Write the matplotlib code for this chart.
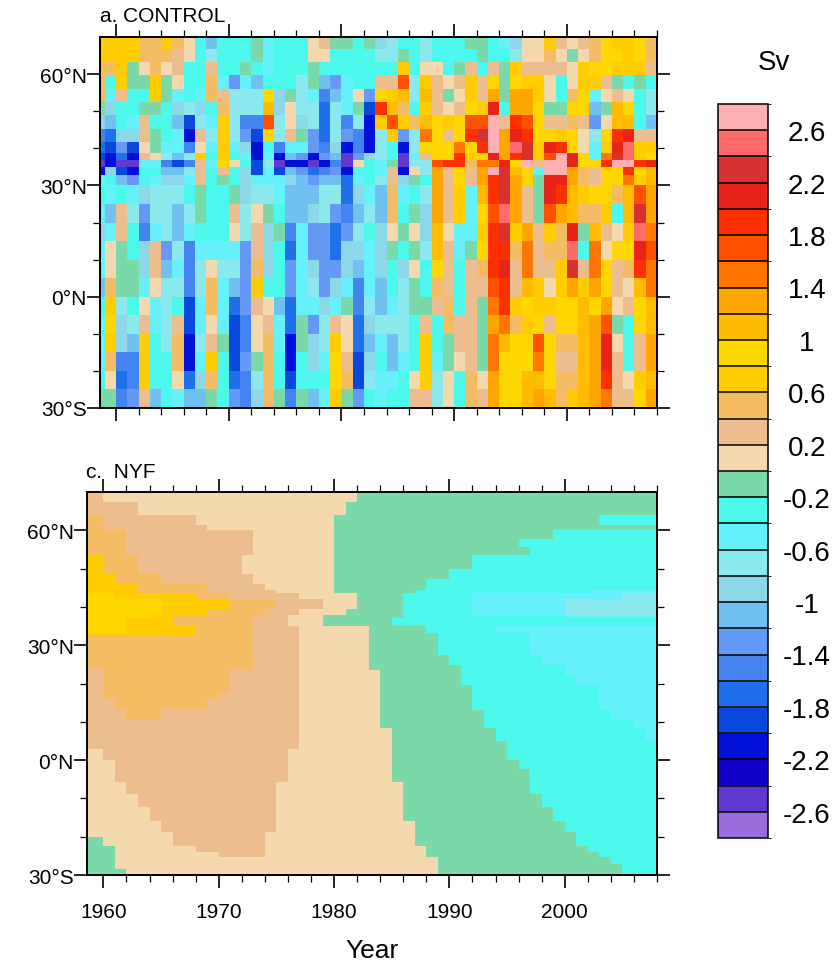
#!/usr/bin/env python3
"""Overturning anomaly (Sv) by latitude and year: CONTROL and NYF panels."""

import numpy as np
import matplotlib
matplotlib.use('Agg')
import matplotlib.pyplot as plt
from matplotlib.colors import ListedColormap, BoundaryNorm
from matplotlib.ticker import MultipleLocator, FixedLocator

plt.rcParams['font.family'] = ['Liberation Sans', 'DejaVu Sans']

W, H = 838, 962

shade_colors = [
    '#9a6cdc', '#6038d0', '#1000c8', '#0010d8', '#0848dc', '#2070ec', '#4484f0',
    '#6699f5', '#70c0f0', '#8cd8e8', '#8be8ec', '#66f0fa', '#4cf8ec', '#7bd8a8',
    '#f5d9ae', '#ecbd8e', '#f4bc62', '#ffcc00', '#ffd700', '#ffbb00', '#ffa500',
    '#ff7700', '#ff5000', '#ff3000', '#e82418', '#d93030', '#ff6b6b', '#ffb0b5',
]
# all values in tenths of a Sverdrup
shade_bounds = list(range(-28, 30, 2))
bar_ticks = [26, 22, 18, 14, 10, 6, 2, -2, -6, -10, -14, -18, -22, -26]
bar_labels = ['2.6', '2.2', '1.8', '1.4', '1', '0.6', '0.2',
              '-0.2', '-0.6', '-1', '-1.4', '-1.8', '-2.2', '-2.6']

year_edges = [1958.58] + list(range(1959, 2009))

control_lat_edges = [70, 66.9, 63.3, 59.7, 56.1, 52.5, 48.9, 45.3, 41.7, 38.6, 36.8, 35,
                     32.7, 30, 25, 20, 15, 10, 5, 0, -5, -10, -15, -20, -25, -30]

# one list per year, north to south
control_by_year = [
    [7, 7, 5, 5, 5, -1, -9, -15, -17, -19, -25, -21, -5, -3, -5, -9, -5, -5, -11, -3, -5, -5, -5, -3, -1],
    [7, 7, 5, -3, -5, -9, -11, -17, -19, -21, -21, -9, -3, -5, -11, -5, 1, 1, 5, 7, 9, 7, 5, 1, -1],
    [7, 7, 7, 7, 3, -3, -3, -9, -13, -17, -25, -19, -11, -3, 3, 3, -1, -1, -1, -7, -9, -9, -15, -17, -15],
    [7, 7, -1, -1, -3, -3, -5, -9, -19, -21, -25, -21, -13, -5, -7, -3, -3, -1, -1, -3, -7, -11, -15, -15, -13],
    [5, 5, 1, -1, -3, -1, 3, 3, 1, 3, -5, -3, -3, -9, -13, -15, -9, -9, -5, 1, 3, 7, 7, 7, 3],
    [5, 5, 5, 7, 7, -1, -3, -1, -1, 1, -5, -3, -5, -7, -7, -5, 3, 3, 1, -5, -5, -3, -3, -3, -11],
    [7, 5, 1, -1, -1, -3, -3, -3, -5, -7, -15, -11, -9, -7, -7, -7, -13, -11, -7, -7, -7, -7, -3, -3, -3],
    [5, 3, 3, 1, -5, -9, -11, -5, -5, -11, -19, -11, -9, -7, -11, -11, -7, -5, -7, -3, 3, 5, 5, 1, -5],
    [1, 1, -3, -3, -3, -7, -19, -21, -15, -7, -15, -7, -5, -3, -7, -5, -15, -15, -15, -19, -19, -21, -21, -17, -11],
    [-3, -3, -3, -3, -5, -9, -7, 3, 1, 7, 3, 3, 3, -1, -1, -3, -5, -7, -7, -5, -5, -7, -5, -9, -11],
    [-11, -7, 3, 5, 5, -3, -5, -7, -5, -3, -5, -3, -3, -3, -3, -3, -5, 1, 5, 5, 1, 3, 7, 5, -1],
    [-3, -3, -3, -5, 3, 5, 7, 7, 7, 7, 9, 3, -1, -3, -3, -3, -5, -7, -5, -5, -5, -1, -3, -3, -3],
    [-3, -3, -3, -13, -7, -7, -7, -7, -5, -3, 1, -3, -3, -1, 3, 1, -5, -7, -11, -17, -19, -19, -19, -17, -13],
    [-3, -3, -1, -5, -7, -7, -15, -13, -9, -5, -3, -9, -9, -9, -7, -7, -13, -13, -13, -13, -15, -15, -13, -15, -15],
    [-1, -1, -3, -11, -7, -7, -15, -19, -21, -21, -19, -19, -5, -7, 1, 3, 3, 5, 7, 3, 1, 1, -1, -7, -9],
    [-5, -5, -5, -3, 9, 11, 17, 9, -3, -5, -7, -5, -5, -7, -1, -9, -9, -9, -3, 1, 3, 5, 5, 5, 5],
    [-3, -3, -3, -3, -9, -9, -7, -7, -15, -21, -25, -19, -5, -5, -3, -1, -3, -3, -3, -11, -5, -5, -3, -3, -1],
    [-3, -3, -3, -3, -1, 1, 1, 3, -5, -11, -21, -11, -9, -11, -11, -15, -17, -13, -13, -17, -17, -21, -21, -19, -15],
    [-3, -3, -3, -7, -7, -7, -9, -1, -5, -13, -21, -13, -11, -11, -11, -5, -5, -5, -5, -5, -1, -1, -3, -3, -1],
    [1, 1, -1, -1, -5, -7, -7, -13, -13, -21, -25, -17, -13, -11, -9, -13, -13, -9, -7, -5, -13, -9, -9, -3, -11],
    [3, 1, -3, -11, -15, -17, -17, -17, -15, -13, -21, -15, -11, -7, -7, -13, -13, -13, -13, -9, -7, -7, -5, -3, -5],
    [-1, -3, -3, -13, -11, -7, -7, -7, -9, -11, -15, -13, -11, -7, -13, -17, -17, -13, -9, -5, 3, 7, 9, 9, 7],
    [-1, -3, -3, -5, -5, -5, -15, -13, -21, -25, -25, -21, -17, -17, -15, -13, -9, -9, -5, -1, 1, 1, 3, 5, -1],
    [-3, -3, -3, -3, 1, -1, -7, -15, -15, -13, 1, -3, -5, -9, -11, -7, -9, -11, -15, -15, -17, -17, -19, -19, -13],
    [-1, -3, -3, -3, -13, -19, -21, -21, -21, -9, -3, -3, -3, -5, -7, -3, -5, -5, -5, -7, -9, -11, -9, -7, -3],
    [-9, -7, -3, 3, 9, 19, 7, -7, -7, -7, -5, -5, -7, -11, -11, -9, -9, -9, -11, -11, -7, -5, -3, -5, -5],
    [-7, -7, -3, 3, 7, 11, 17, 7, -3, -3, -1, 3, 3, 5, 5, 1, -1, -3, -3, -5, -7, -11, -11, -5, -3],
    [-3, -1, 7, 17, 11, 5, 7, -13, -21, -25, -25, -21, -9, -5, -3, -1, -3, -9, -7, -7, -7, -7, -5, -3, -3],
    [-3, -3, -3, -7, -7, -3, 5, -7, -7, -5, -7, 1, -1, -3, -1, 1, -1, 1, -1, -1, -3, -3, -3, 1, 3],
    [-7, -7, 1, 7, 11, 7, 11, 15, 9, 3, -7, -7, -3, -7, -9, -9, -7, -3, -3, -1, 3, 7, 7, 7, 3],
    [-3, -3, 1, 3, 3, 3, 9, 9, 9, 9, 17, 13, 13, 13, 13, 11, 11, 9, 5, 3, -3, -3, -5, -7, -7],
    [-3, -3, -3, 1, -1, 1, 7, 3, 9, 9, 19, 3, 3, 3, 3, 1, 3, 3, 3, 5, 5, -1, -1, 1, 1],
    [-3, -3, -1, 3, 1, 3, 9, 9, 15, 19, 19, 9, 9, 7, 7, -5, -5, -3, -3, -3, 3, 3, 1, -3, -3],
    [-1, -3, 3, 7, 7, 9, 17, 19, 9, 7, 5, 3, 3, -5, -5, -5, -1, 3, 3, 3, 3, 3, 3, 5, 5],
    [-1, -1, -3, 3, 3, 7, 17, 23, 19, 9, 15, 13, 13, 11, 9, 7, 9, 5, 3, -1, -1, -1, -1, 1, 3],
    [-3, -3, 3, 9, 13, 21, 27, 27, 27, 21, 15, 27, 19, 19, 17, 19, 19, 19, 17, 15, 13, 15, 15, 13, 13],
    [-5, -3, -1, -1, -1, -3, 3, 13, 13, 13, 21, 23, 23, 23, 25, 23, 19, 21, 19, 19, 15, 11, 9, 9, 9],
    [-9, -7, 7, 9, 13, 13, 19, 21, 25, 19, 9, 11, 13, 13, 13, 7, 5, 3, 3, 7, 5, 9, 9, 9, 9],
    [1, 1, 3, 7, 13, 13, 17, 19, 23, 23, 27, 9, 9, 3, 3, 13, 15, 15, 11, 9, 7, 9, 9, 11, 11],
    [1, 1, 3, 7, 7, 9, 9, 9, 7, 7, 3, -5, -1, -1, -1, 3, 3, 3, 7, 7, 9, 17, 15, 11, 13],
    [7, 5, 3, 1, 1, -1, 3, 9, 21, 17, 27, 27, 21, 21, 17, 7, 5, 3, 1, 7, 3, 9, 9, 9, 11],
    [3, 1, 3, -3, -3, -1, 3, 7, 19, 27, 27, 27, 21, 19, 13, 5, 5, 7, 7, 9, 9, 5, 3, 5, 5],
    [1, -1, 1, 1, 5, 9, 5, 9, 9, 21, 21, 13, 13, 11, 11, 21, 25, 23, 13, 9, 9, 5, 3, 5, 7],
    [3, 1, 7, 7, 9, 9, 3, 1, 1, 9, 9, 5, 5, 7, 5, -1, -3, 3, 7, 11, 11, 11, 11, 11, 11],
    [5, 5, 9, 7, -5, -11, -13, -7, -5, -5, 9, 3, 3, 9, 5, 11, 15, 15, 13, 9, 13, 13, 13, 13, 13],
    [9, 9, 9, 3, 1, -1, 1, 9, 7, 15, 19, 9, 9, 9, 7, 3, 1, 9, 9, 13, 17, 21, 21, 19, 15],
    [7, 9, 7, -1, 3, 11, 11, 19, 21, 23, 27, 9, 9, 5, -3, 1, 9, 3, 3, 1, -1, 1, 3, 3, 3],
    [7, 7, 7, -3, 1, 9, 11, 21, 25, 25, 27, 19, 15, 11, 11, 7, 9, 5, 1, 3, -3, -3, -3, 1, 3],
    [9, 9, 7, -1, -3, -3, -3, 3, 7, 7, 19, 9, 7, 17, 23, 25, 21, 19, 11, 9, 9, 3, 3, 7, 9],
    [5, 5, 3, -3, -7, -7, -11, 3, 7, 9, 21, 11, 11, 13, 13, 15, 17, 15, 15, 11, 11, 13, 13, 11, 13],
]

# NYF: for each latitude band, the year at which the field drops below each level
# (0 = already below at the start, 2100 = never in the record)
nyf_lat_edges = [70, 67.4, 64, 61.3, 60, 57.8, 55.6, 53.5, 50, 48.7, 47.4, 46, 44.3, 43.5, 42,
                 39.5, 38, 37, 35, 33.3, 32.6, 31, 27.4, 24.8, 23.5, 22, 19.6, 17.5, 16, 13,
                 10.4, 8.5, 5, 2.9, 0, -2.3, -5.8, -8.9, -12.3, -15.8, -18.9, -20, -22.3, -24,
                 -25.4, -27.1, -28.4, -30]
nyf_levels = [9, 7, 5, 3, 1, -1, -3, -5, -7]
ends_9 = [0]*13 + [1961, 1965, 1965, 1964, 1962, 1962] + [0]*28
ends_7 = [0]*7 + [1960, 1960, 1961, 1961, 1963, 1963, 1968, 1971, 1969, 1966, 1966, 1968, 1968] + [0]*27
ends_5 = [0, 0, 1960, 1960, 1962, 1962, 1962, 1963, 1963, 1965, 1965, 1969, 1969, 1971, 1975, 1974, 1973,
          1973, 1973, 1973, 1973, 1973, 1973, 1973, 1971, 1971, 1971, 1970, 1969, 1965] + [0]*17
ends_3 = [1960, 1963, 1968, 1969, 1973, 1973, 1973, 1972, 1972, 1973, 1973, 1974, 1975, 1977, 1979, 1977,
          1976, 1976, 1977, 1977, 1977, 1977, 1977, 1977, 1977, 1977, 1977, 1977, 1977, 1977, 1977, 1977,
          1977, 1976, 1976, 1976, 1975, 1975, 1975, 1975, 1974, 1974, 1974, 1974, 0, 0, 0]
ends_1 = [1982, 1981, 1980, 1980, 1980, 1980, 1980, 1980, 1980, 1980, 1980, 1980, 1980, 1982, 1982, 1981,
          1979, 1979, 1983, 1983, 1983, 1983, 1983, 1983, 1984, 1984, 1984, 1984, 1984, 1984, 1984, 1985,
          1985, 1985, 1985, 1985, 1986, 1986, 1986, 1987, 1987, 1987, 1988, 1988, 1989, 1989, 1989]
ends_m1 = [2100, 2100, 2003, 2100, 1999, 1996, 1997, 1992, 1990, 1990, 1988, 1988, 1987, 1986, 1986, 1986,
           1986, 1985, 1988, 1989, 1989, 1989, 1990, 1991, 1991, 1991, 1992, 1992, 1992, 1993, 1993, 1994,
           1995, 1995, 1996, 1997, 1997, 1998, 1999, 2000, 2001, 2001, 2002, 2003, 2004, 2005, 2005]
ends_m3 = [2100]*12 + [2002, 1992, 1992, 1992, 2000, 2100, 1994, 1997, 1997, 1997, 1998, 2000, 2000, 2001,
                       2003, 2003, 2003, 2004, 2006, 2007] + [2100]*15
ends_m5 = [2100]*13 + [2005, 2000, 2000, 2100] + [2100]*30
# left-hand edge: lower values up to the given year
left_value = [0]*24 + [3]*6 + [0]*3 + [1]*11 + [0]*3
left_until = [0]*24 + [1960, 1960, 1960, 1960, 1961, 1962] + [0]*3 + [1960, 1961, 1961, 1962, 1963, 1964,
              1965, 1966, 1966, 1968, 1970] + [0]*3
green_until = [0]*41 + [1960, 1961, 1961, 1961, 1961, 1962]


def build_nyf():
    """Turn the per-band crossing years into a latitude by year grid."""
    crossings = [ends_9, ends_7, ends_5, ends_3, ends_1, ends_m1, ends_m3, ends_m5]
    starts = year_edges[:-1]
    grid = np.zeros((len(nyf_lat_edges) - 1, len(starts)))
    for i in range(grid.shape[0]):
        for j, yr in enumerate(starts):
            passed = sum(1 for c in crossings if yr >= c[i])
            val = nyf_levels[passed]
            if yr < left_until[i]:
                val = left_value[i]
            if yr < green_until[i]:
                val = -1
            grid[i, j] = val
    return grid


def px_axes(fig, left, right, top, bottom):
    return fig.add_axes([left / W, 1 - bottom / H, (right - left) / W, (bottom - top) / H])


def style_panel(ax, title, title_x, show_years):
    ax.set_xlim(year_edges[0], 2008)
    ax.set_ylim(-30, 70)
    ax.xaxis.set_major_locator(MultipleLocator(10))
    ax.xaxis.set_minor_locator(FixedLocator(list(range(1960, 2010, 2))))
    ax.set_yticks([-30, 0, 30, 60])
    ax.set_yticklabels(['30°S', '0°N', '30°N', '60°N'])
    ax.yaxis.set_minor_locator(FixedLocator([-20, -10, 10, 20, 40, 50]))
    ax.tick_params(which='major', direction='out', length=9.5, width=1.2, top=True, right=True,
                   labelsize=15, pad=0)
    ax.tick_params(which='minor', direction='out', length=5, width=0.9, top=True, right=True)
    ax.tick_params(axis='x', which='major', pad=10)
    if show_years:
        ax.set_xticks([1960, 1970, 1980, 1990, 2000])
        ax.set_xticklabels(['1960', '1970', '1980', '1990', '2000'])
    else:
        ax.set_xticklabels([])
    for spine in ax.spines.values():
        spine.set_linewidth(1.4)
    fig = ax.figure
    box = ax.get_position()
    fig.text(title_x / W, box.y1 + 11.5 / H, title, fontsize=15, ha='left', va='bottom')


def main():
    cmap = ListedColormap(shade_colors)
    norm = BoundaryNorm(shade_bounds, cmap.N)
    fig = plt.figure(figsize=(W / 100, H / 100), dpi=100)

    ax_a = px_axes(fig, 100, 657, 38, 409)
    control = np.array(control_by_year).T
    mesh = ax_a.pcolormesh(year_edges, control_lat_edges, control, cmap=cmap, norm=norm)
    style_panel(ax_a, 'a. CONTROL', 100, False)

    ax_c = px_axes(fig, 87, 657, 493, 876)
    ax_c.pcolormesh(year_edges, nyf_lat_edges, build_nyf(), cmap=cmap, norm=norm)
    style_panel(ax_c, 'c.  NYF', 86, True)
    fig.text(372 / W, 1 - 958 / H, 'Year', fontsize=19, ha='center', va='baseline')

    cax = px_axes(fig, 718, 768, 105, 839)
    bar = fig.colorbar(mesh, cax=cax, drawedges=True, ticks=bar_ticks, spacing='uniform')
    bar.ax.set_yticklabels(bar_labels)
    bar.ax.tick_params(length=0, labelsize=20, pad=28)
    for label in bar.ax.get_yticklabels():
        label.set_ha('center')
    bar.dividers.set_linewidth(1.1)
    bar.dividers.set_color('black')
    bar.outline.set_linewidth(1.1)
    fig.text(774 / W, 1 - 70 / H, 'Sv', fontsize=20, ha='center', va='baseline')

    fig.savefig('out.png', dpi=100)
    plt.close(fig)


if __name__ == "__main__":
    main()
